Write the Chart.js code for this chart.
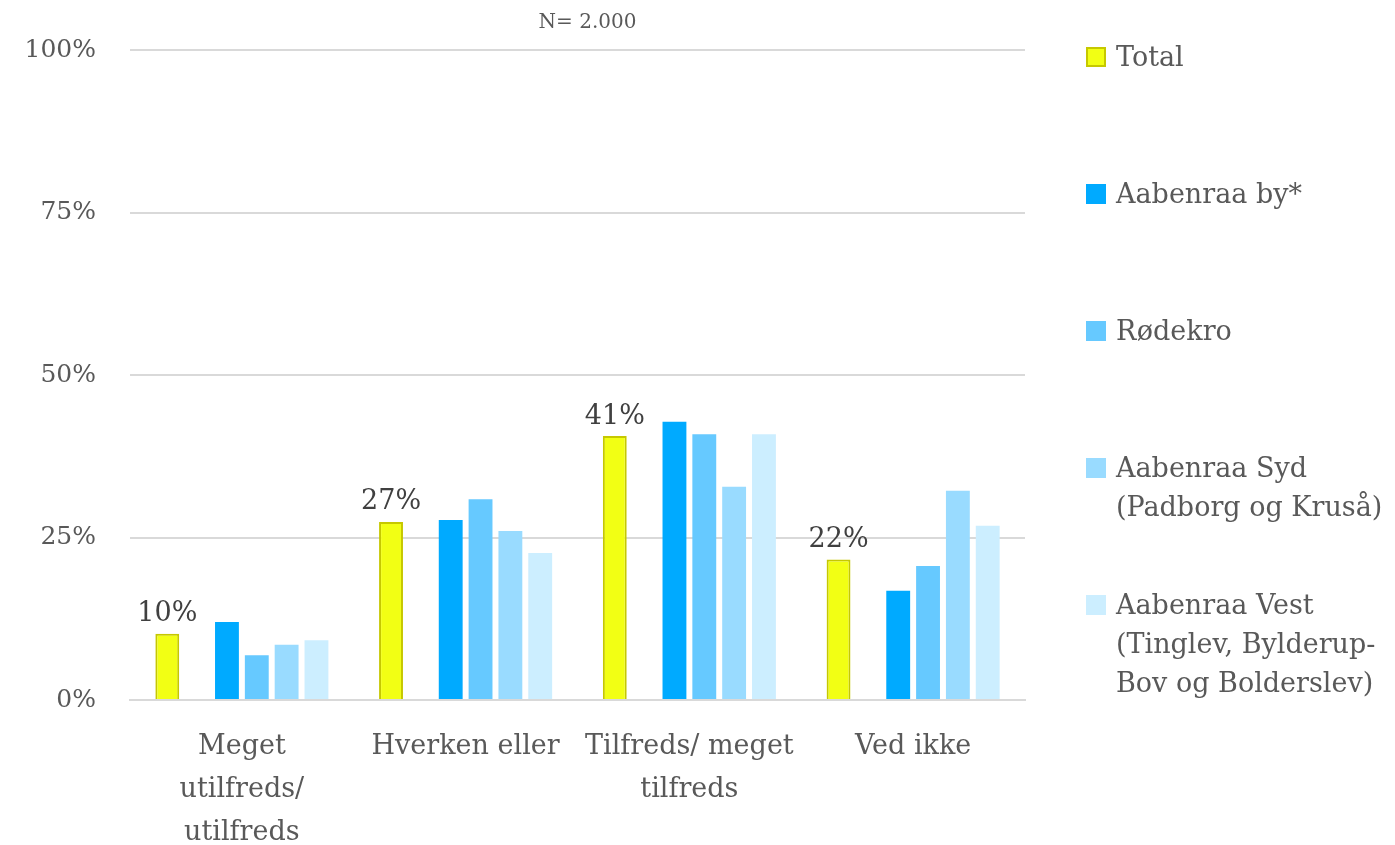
<!DOCTYPE html>
<html>
<head>
<meta charset="utf-8">
<script src="https://cdn.jsdelivr.net/npm/chart.js@4.4.1/dist/chart.umd.min.js"></script>
<style>
  html, body { margin: 0; padding: 0; background: #fff; }
  #wrap { position: relative; width: 1395px; height: 845px; }
  #legend {
    position: absolute; left: 1086px; top: 0;
    font-family: 'DejaVu Serif', serif; font-size: 27px; color: #595959;
  }
  .item { position: absolute; left: 0; white-space: nowrap; line-height: 39px; }
  .box { position: absolute; left: 0; top: 10px; width: 20px; height: 20px; box-sizing: border-box; }
  .txt { position: absolute; left: 30px; top: 0; }
</style>
</head>
<body>
<div id="wrap">
  <canvas id="chart" width="1395" height="845"></canvas>
  <div id="legend"></div>
</div>
<script>
// --- Data ---
const categories = [['Meget', 'utilfreds/', 'utilfreds'], 'Hverken eller', ['Tilfreds/ meget', 'tilfreds'], 'Ved ikke'];
const seriesNames = ['Total', 'Aabenraa by*', 'Rødekro', 'Aabenraa Syd\n(Padborg og Kruså)', 'Aabenraa Vest\n(Tinglev, Bylderup-\nBov og Bolderslev)'];
const totalValues = [10.2, 27.4, 40.6, 21.6];
const byValues = [12.0, 27.7, 42.8, 16.8];
const roedekroValues = [6.9, 30.9, 40.9, 20.6];
const sydValues = [8.5, 26.0, 32.8, 32.2];
const vestValues = [9.2, 22.6, 40.9, 26.8];
const yTicks = [0, 25, 50, 75, 100];
const sampleNote = 'N= 2.000';

const fills = ['#f2ff14', '#00aaff', '#66c9ff', '#99dbff', '#cceeff'];
const borders = ['#c6c800', '#00aaff', '#66c9ff', '#99dbff', '#cceeff'];
const seriesValues = [totalValues, byValues, roedekroValues, sydValues, vestValues];
const FONT = "'DejaVu Serif', serif";

// dataset list: Total, an empty spacer slot, then the areas
const datasets = [];
seriesValues.forEach((vals, i) => {
    datasets.push({
        label: seriesNames[i],
        data: vals,
        backgroundColor: fills[i],
        borderColor: borders[i],
        borderWidth: i === 0 ? 2 : 0
    });
    if (i === 0) {
        datasets.push({ label: '', data: [null, null, null, null], backgroundColor: 'rgba(0,0,0,0)' });
    }
});

// Total value labels + N note
const extras = {
    id: 'extras',
    afterDatasetsDraw(chart) {
        const ctx = chart.ctx;
        const meta = chart.getDatasetMeta(0);
        ctx.save();
        ctx.font = '27px ' + FONT;
        ctx.fillStyle = '#404040';
        ctx.textAlign = 'center';
        ctx.textBaseline = 'bottom';
        meta.data.forEach((bar, i) => {
            ctx.fillText(Math.round(totalValues[i]) + '%', bar.x, bar.y - 6);
        });
        ctx.font = '20px ' + FONT;
        ctx.fillStyle = '#595959';
        ctx.textBaseline = 'middle';
        const a = chart.chartArea;
        ctx.fillText(sampleNote, (a.left + a.right) / 2 + 10, 23);
        ctx.restore();
    }
};

new Chart(document.getElementById('chart'), {
    type: 'bar',
    data: { labels: categories, datasets: datasets },
    options: {
        responsive: false,
        animation: false,
        events: [],
        layout: { padding: { top: 50, right: 370, bottom: 0, left: 0 } },
        datasets: { bar: { categoryPercentage: 0.8, barPercentage: 0.8 } },
        plugins: { legend: { display: false }, tooltip: { enabled: false }, title: { display: false } },
        scales: {
            x: {
                grid: { display: false, drawTicks: false },
                border: { color: '#d9d9d9', width: 2 },
                ticks: { color: '#595959', font: { family: FONT, size: 27, lineHeight: 1.58 }, padding: 26, maxRotation: 0, autoSkip: false },
                afterFit(scale) { scale.height = 145; }
            },
            y: {
                min: 0, max: 100,
                afterBuildTicks(scale) { scale.ticks = yTicks.map(v => ({ value: v })); },
                grid: { color: '#d9d9d9', lineWidth: 2, drawTicks: false },
                border: { display: false },
                ticks: { color: '#595959', font: { family: FONT, size: 25 }, padding: 34, callback: v => v + '%' },
                afterFit(scale) { scale.width = 130; }
            }
        }
    },
    plugins: [extras]
});

// --- HTML legend ---
const legend = document.getElementById('legend');
seriesNames.forEach((name, i) => {
    const item = document.createElement('div');
    item.className = 'item';
    item.style.top = (37 + i * 137) + 'px';
    const box = document.createElement('span');
    box.className = 'box';
    box.style.background = fills[i];
    if (i === 0) box.style.border = '2px solid ' + borders[0];
    const txt = document.createElement('span');
    txt.className = 'txt';
    txt.innerHTML = name.split('\n').join('<br>');
    item.appendChild(box);
    item.appendChild(txt);
    legend.appendChild(item);
});
</script>
</body>
</html>
